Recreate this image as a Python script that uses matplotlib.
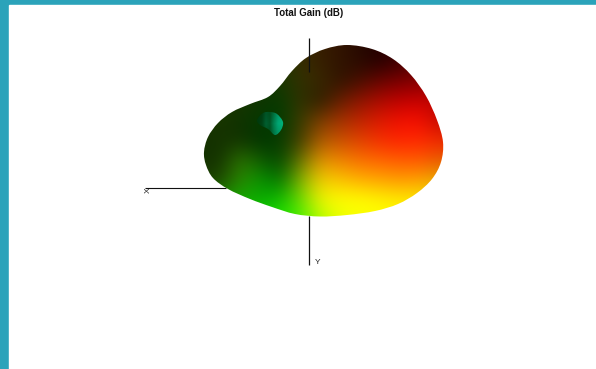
import numpy as np
import matplotlib
matplotlib.use("Agg")
import matplotlib.pyplot as plt
from matplotlib.path import Path
from matplotlib.patches import PathPatch

W, H = 596, 369
title = "Total Gain (dB)"
axis_labels = ["X", "Y"]

# surface colour samples, rows top to bottom (y = 40..220), columns left to right (x = 200..460)
red = [
 [ 25, 25, 25, 25, 30, 55, 55, 50, 40, 35, 60, 90,110,110],
 [ 25, 25, 25, 25, 30, 55, 55, 50, 40, 35, 60, 90,110,110],
 [ 25, 25, 25, 20, 25, 50, 60, 45, 70,100,120,130,130,130],
 [ 25, 25, 25, 15,  5, 50, 40,100,140,170,190,200,190,190],
 [ 25, 25, 15,  5,  0, 55,120,160,190,220,240,245,190,190],
 [ 20, 20, 20,  0,  5, 65,170,200,225,245,255,255,240,240],
 [ 20, 20, 45, 20,  0,100,220,240,250,255,255,255,230,230],
 [ 25, 30, 45, 10,  0,125,240,250,255,255,255,255,230,230],
 [ 25, 25, 20, 10, 15,100,235,255,255,255,255,250,230,230],
 [ 20, 20, 20, 20, 30, 70,170,235,250,255,255,250,230,230],
]
green = [
 [ 50, 50, 55, 55, 55, 45, 30, 20, 10,  0,  0,  0,  0,  0],
 [ 50, 50, 55, 55, 55, 45, 30, 20, 10,  0,  0,  0,  0,  0],
 [ 50, 50, 55, 55, 55, 50, 40, 20, 15,  5,  0,  0,  0,  0],
 [ 50, 50, 55, 50, 60, 50, 30, 30, 20, 10,  0,  0,  5,  5],
 [ 50, 55, 50, 60, 60, 60, 60, 50, 35, 25, 15, 15, 10, 10],
 [ 50, 50, 50, 50, 60, 60, 90, 80, 65, 45, 35, 40, 40, 40],
 [ 50, 50,115, 90, 70,115,145,130,110,100, 90, 90, 90, 90],
 [ 60, 70,135,150,115,175,205,195,175,165,155,160,170,170],
 [ 80,140,170,170,190,220,245,255,255,245,235,235,225,225],
 [120,180,200,220,230,240,255,255,255,255,255,250,240,240],
]

# silhouette of the pattern
outline_x = [347,372,393,411,426,437,443,441,432,417,398,375,347,320,295,272,250,228,213,206,204,208,218,232,250,268,280,292,306,325]
outline_y = [45,49,59,75,96,120,142,162,179,193,204,211,215,216.5,214,207,199,189,178,165,152,137,123,112,104,97,86,71,58,49]

# small side lobe colours (columns left to right)
lobe_green = [[58,62,85,80,115,150,170],[58,66,95,85,130,165,175],[55,62,85,80,120,150,160]]
lobe_blue  = [[12,18,40,32,65,100,120],[12,22,48,38,80,115,120],[8,15,35,30,70,100,105]]
lobe_x = [257,263,270,277,283,281,275,268,260]
lobe_y = [120,113,112,114,122,130,135,129,125]

# axis stubs
x_axis_x, x_axis_y = [145, 226], [188, 188]
z_axis_x, z_top_y, z_bottom_y = [309.4, 309.4], [38, 72], [216, 265]

teal = "#2ba3ba"

def smooth_closed(xs, ys):
    p = np.column_stack([xs, ys]).astype(float)
    n = len(p)
    verts, codes = [p[0]], [Path.MOVETO]
    for i in range(n):
        p0, p1, p2, p3 = p[i-1], p[i], p[(i+1) % n], p[(i+2) % n]
        verts += [p1 + (p2-p0)/6, p2 - (p3-p1)/6, p2]
        codes += [Path.CURVE4]*3
    return Path(np.array(verts), codes)

fig = plt.figure(figsize=(W/100, H/100), dpi=100, facecolor=teal)
ax = fig.add_axes([0, 0, 1, 1])
ax.set_xlim(0, W); ax.set_ylim(H, 0); ax.axis("off")
ax.add_patch(plt.Rectangle((9, 5), W, H, color="white", zorder=0))

rgb = np.dstack([np.array(red), np.array(green), np.zeros_like(np.array(red))]).astype(float)/255
im = ax.imshow(rgb, extent=(190, 470, 230, 30), interpolation="bicubic",
               interpolation_stage="rgba", zorder=2, aspect="auto")
clip = PathPatch(smooth_closed(outline_x, outline_y), fc="none", ec="none", transform=ax.transData)
ax.add_patch(clip)
im.set_clip_path(clip)

lobe_rgb = np.dstack([np.zeros_like(np.array(lobe_green)), np.array(lobe_green), np.array(lobe_blue)]).astype(float)/255
lim = ax.imshow(lobe_rgb, extent=(256, 284, 137, 110), interpolation="bilinear",
                interpolation_stage="rgba", zorder=3, aspect="auto")
lclip = PathPatch(smooth_closed(lobe_x, lobe_y), fc="none", ec="none", transform=ax.transData)
ax.add_patch(lclip)
lim.set_clip_path(lclip)
ax.set_xlim(0, W); ax.set_ylim(H, 0)

ax.plot(x_axis_x, x_axis_y, color="#111111", lw=0.8, zorder=1, solid_capstyle="butt")
ax.plot(z_axis_x, z_top_y, color="#111111", lw=0.9, zorder=4, solid_capstyle="butt")
ax.plot(z_axis_x, z_bottom_y, color="#111111", lw=0.9, zorder=1, solid_capstyle="butt")

ax.text(308.5, 12.5, title, ha="center", va="center", family="Liberation Sans",
        fontweight="bold", fontsize=7.0, color="#111111")
ax.text(148.5, 190.5, axis_labels[0], ha="center", va="center", rotation=90,
        family="Liberation Sans", fontsize=6, color="#222222")
ax.text(318, 263, axis_labels[1], ha="center", va="center",
        family="Liberation Sans", fontsize=6, color="#222222")

fig.savefig("out.png", dpi=100, facecolor=teal)
